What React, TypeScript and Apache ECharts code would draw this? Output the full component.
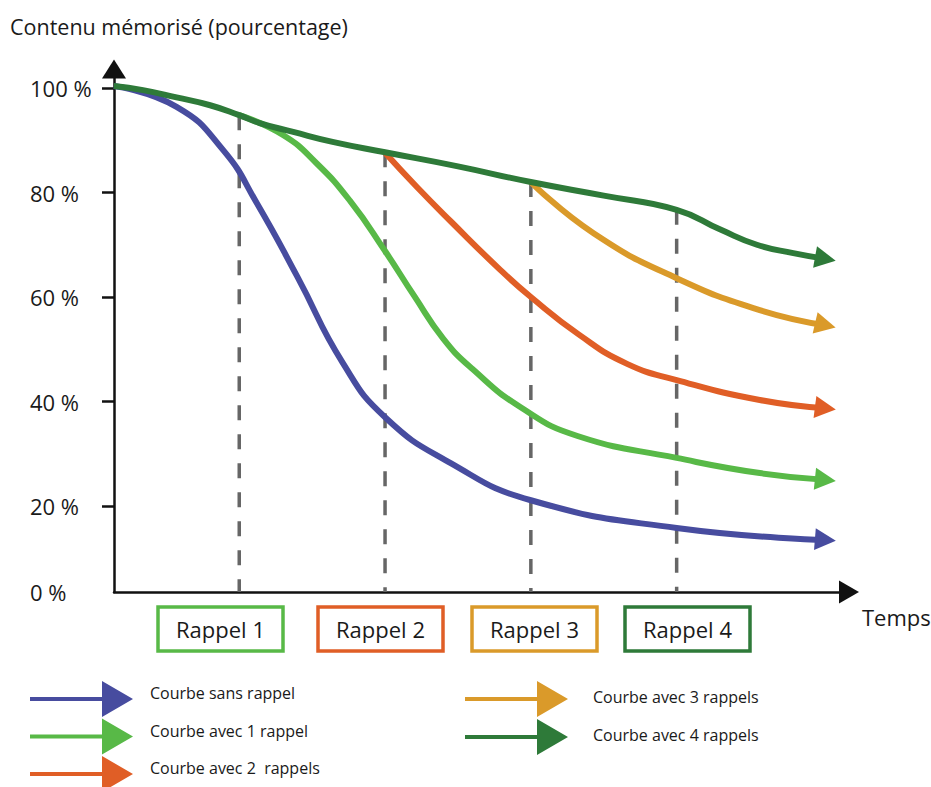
import React, { useEffect, useRef } from "react";
import * as echarts from "echarts";

// ---- axis extents (data units) ----
const T_MIN = 0.141;
const T_MAX = 5.182;
const Y_MIN = 3.54;
const Y_MAX = 103.64;

const Y_TICKS = [20, 40, 60, 80, 100];
const Y_LABELS = [Y_MIN, 20, 40, 60, 80, 100];

// ---- rappels ----
const RAPPEL_T = [1, 2, 3, 4];
const RAPPEL_TOP = [94.8, 87.7, 82.0, 76.7];
const RAPPEL_NAMES = ["Rappel 1", "Rappel 2", "Rappel 3", "Rappel 4"];

// ---- curves [time, %] ----
const SANS_RAPPEL = [
  [0.14, 100.4], [0.57, 96.4], [0.89, 88.1], [1.12, 78.0], [1.4, 63.8], [1.71, 47.4],
  [2.0, 37.0], [2.45, 28.2], [3.0, 21.1], [4.0, 15.8], [5.02, 13.5],
];
const AVEC_1 = [
  [1.0, 94.8], [1.3, 91.0], [1.53, 85.6], [1.76, 78.4], [2.0, 68.8], [2.2, 60.2],
  [2.4, 52.0], [2.6, 46.2], [2.93, 38.9], [3.32, 33.4], [4.0, 29.2], [4.57, 26.3],
  [5.02, 25.0],
];
const AVEC_2 = [
  [2.0, 87.6], [2.22, 81.0], [2.45, 74.5], [2.79, 65.2], [3.0, 60.0], [3.33, 52.8],
  [3.66, 47.2], [4.0, 44.1], [4.57, 40.3], [5.02, 38.7],
];
const AVEC_3 = [
  [3.0, 82.0], [3.43, 72.2], [4.0, 63.6], [4.57, 57.5], [5.02, 54.6],
];
const AVEC_4 = [
  [0.14, 100.4], [0.34, 99.6], [0.57, 98.2], [0.8, 96.7], [1.0, 94.8], [1.14, 93.3],
  [1.37, 91.6], [1.64, 89.7], [2.0, 87.7], [2.5, 85.0], [3.0, 82.0], [3.5, 79.4],
  [4.0, 76.7], [4.3, 72.9], [4.55, 70.0], [4.8, 68.4], [5.02, 67.3],
];

const SERIES_NAMES = [
  "Courbe sans rappel",
  "Courbe avec 1 rappel",
  "Courbe avec 2  rappels",
  "Courbe avec 3 rappels",
  "Courbe avec 4 rappels",
];
const SERIES_DATA = [SANS_RAPPEL, AVEC_1, AVEC_2, AVEC_3, AVEC_4];
const COLORS = ["#474c9f", "#58b947", "#e05e26", "#da9a2a", "#2e7a39"];
const RAPPEL_COLORS = ["#58b947", "#e05e26", "#da9a2a", "#2e7a39"];

const FONT = "'Open Sans', 'Noto Sans', sans-serif";
const INK = "#1a1a1a";
const ARROW_ICON = "path://M0,16L72,16L72,0L103,18L72,36L72,20L0,20Z";

// layout of the boxes below the axis (pixels)
const BOX_LEFT = [158, 318, 472, 625];

function buildOption(rotations: number[]) {
  const dashed = RAPPEL_T.map((t, i) => ({
    type: "line",
    data: [[t, RAPPEL_TOP[i]], [t, Y_MIN]],
    symbol: "none",
    silent: true,
    z: 1,
    lineStyle: { color: "#666666", width: 3.5, type: [15, 14] },
  }));
  const curves = SERIES_DATA.map((pts, s) => ({
    type: "line",
    name: SERIES_NAMES[s],
    smooth: 0.5,
    symbol: "none",
    showSymbol: true,
    z: 2 + s,
    color: COLORS[s],
    lineStyle: { color: COLORS[s], width: 6 },
    itemStyle: { color: COLORS[s] },
    data: pts.map((p, i) =>
      i === pts.length - 1
        ? {
            value: p,
            symbol: "triangle",
            symbolSize: [22, 21],
            symbolRotate: rotations[s],
            itemStyle: { color: COLORS[s] },
          }
        : { value: p }
    ),
  }));

  const legendCommon = {
    orient: "vertical",
    top: 681,
    height: 160,
    padding: 0,
    itemWidth: 103,
    itemHeight: 36,
    icon: ARROW_ICON,
    selectedMode: false,
    itemStyle: { borderWidth: 0 },
  };

  return {
    animation: false,
    title: {
      text: "Contenu mémorisé (pourcentage)",
      left: 10,
      top: 15,
      padding: 0,
      textStyle: { fontSize: 21.5, fontWeight: "normal", color: INK, fontFamily: FONT },
    },
    grid: { left: 114, right: 82, top: 69, bottom: 195, containLabel: false },
    xAxis: {
      type: "value",
      min: T_MIN,
      max: T_MAX,
      axisLine: {
        show: true,
        symbol: ["none", "triangle"],
        symbolSize: [23, 20],
        lineStyle: { color: "#111111", width: 2.5 },
      },
      axisTick: { show: false },
      axisLabel: { show: false },
      splitLine: { show: false },
    },
    yAxis: {
      type: "value",
      min: Y_MIN,
      max: Y_MAX,
      axisLine: {
        show: true,
        symbol: ["none", "triangle"],
        symbolSize: [24, 19],
        lineStyle: { color: "#111111", width: 2.5 },
      },
      axisTick: {
        show: true,
        customValues: Y_TICKS,
        length: 12,
        lineStyle: { color: "#111111", width: 2.5 },
      },
      axisLabel: {
        customValues: Y_LABELS,
        formatter: (v: number) => (v < 10 ? "0 %" : `${Math.round(v)} %`),
        align: "left",
        margin: 84,
        fontSize: 22,
        color: INK,
        fontFamily: FONT,
      },
      splitLine: { show: false },
    },
    legend: [
      {
        ...legendCommon,
        data: SERIES_NAMES.slice(0, 3),
        left: 30,
        itemGap: 1.5,
        formatter: (name: string) => `{t|${name}}\n{g| }`,
        textStyle: {
          fontSize: 16,
          color: INK,
          fontFamily: FONT,
          padding: [0, 0, 0, 12],
          rich: {
            t: { fontSize: 16, color: INK, fontFamily: FONT, lineHeight: 20 },
            g: { fontSize: 2, lineHeight: 12 },
          },
        },
      },
      {
        ...legendCommon,
        data: SERIES_NAMES.slice(3),
        left: 465,
        itemGap: 2,
        formatter: (name: string) => `{t|${name}}\n{g| }`,
        textStyle: {
          fontSize: 16,
          color: INK,
          fontFamily: FONT,
          padding: [0, 0, 0, 20],
          rich: {
            t: { fontSize: 16, color: INK, fontFamily: FONT, lineHeight: 20 },
            g: { fontSize: 2, lineHeight: 5 },
          },
        },
      },
    ],
    graphic: [
      {
        type: "text",
        x: 862,
        y: 617,
        style: {
          text: "Temps",
          fontSize: 22,
          fill: INK,
          fontFamily: FONT,
          verticalAlign: "middle",
        },
      },
      ...RAPPEL_NAMES.map((name, i) => ({
        type: "group",
        x: BOX_LEFT[i],
        y: 607,
        children: [
          {
            type: "rect",
            shape: { x: 0, y: 0, width: 125, height: 44 },
            style: { fill: "#ffffff", stroke: RAPPEL_COLORS[i], lineWidth: 3.5 },
          },
          {
            type: "text",
            x: 62.5,
            y: 22,
            style: {
              text: name,
              fontSize: 22,
              fill: INK,
              fontFamily: FONT,
              align: "center",
              verticalAlign: "middle",
            },
          },
        ],
      })),
    ],
    series: [...dashed, ...curves],
  };
}

export default function App() {
  const ref = useRef<HTMLDivElement>(null);
  useEffect(() => {
    if (!ref.current) return;
    const chart = echarts.init(ref.current, undefined, { renderer: "svg" });
    chart.setOption(buildOption(SERIES_DATA.map(() => -90)) as any);
    // orient arrow heads along the last segment of each curve
    const rotations = SERIES_DATA.map((pts) => {
      const a = chart.convertToPixel({ gridIndex: 0 }, pts[pts.length - 2]) as number[];
      const b = chart.convertToPixel({ gridIndex: 0 }, pts[pts.length - 1]) as number[];
      const deg = (Math.atan2(b[1] - a[1], b[0] - a[0]) * 180) / Math.PI;
      return -90 - deg;
    });
    chart.setOption(buildOption(rotations) as any, true);
    return () => chart.dispose();
  }, []);
  return (
    <div
      ref={ref}
      style={{ position: "fixed", left: 0, top: 0, width: 931, height: 787, background: "#fff" }}
    />
  );
}
